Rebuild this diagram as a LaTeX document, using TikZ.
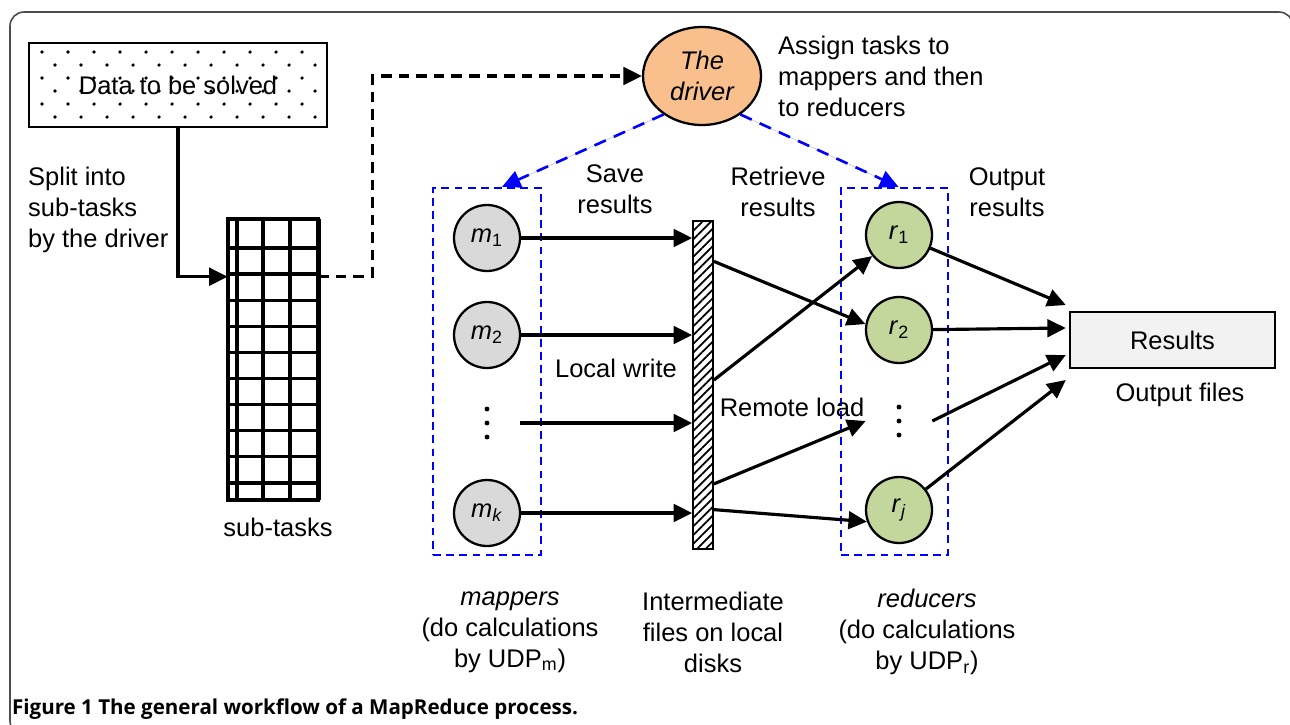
\documentclass[tikz,border=0pt]{standalone}
\usepackage{fontspec}
\setmainfont{Liberation Sans}
\newfontfamily\capfont{Open Sans}
\usetikzlibrary{arrows.meta,patterns.meta,calc,positioning,shapes.geometric}

\definecolor{mapgray}{HTML}{D9D9D9}
\definecolor{redgreen}{HTML}{C3D69B}
\definecolor{drivfill}{HTML}{F9C08E}
\definecolor{resfill}{HTML}{F2F2F2}

\tikzset{
    worker/.style={circle, draw, line width=1.3pt, minimum size=1.32cm, inner sep=0pt},
    mapper/.style={worker, fill=mapgray},
    reducer/.style={worker, fill=redgreen},
    group/.style={draw=blue, line width=1.3pt, dash pattern=on 4.5pt off 3pt},
    arr/.style={line width=1.8pt, -{Triangle[length=10.5pt,width=10pt]}},
    assign/.style={arr, draw=blue, fill=blue, line width=1.5pt, dash pattern=on 7pt off 5pt},
    gridline/.style={line width=1.9pt},
}

\begin{document}
\begin{tikzpicture}[x=0.02cm, y=-0.02cm, font=\fontsize{14.5}{17.6}\selectfont]
    \useasboundingbox (0,0) rectangle (1290,724);
    \draw[gray!60!black, line width=0.9pt, rounded corners=8pt] (10,12) rectangle (1293,735);

    % input data, dotted box
    \foreach \r in {0,...,5}
        \foreach \c in {0,...,10}
            \fill ({42+13*mod(\r,2)+26*\c},{52+13*\r}) circle (1pt);
    \node[draw, line width=1.6pt, minimum width=5.96cm, minimum height=1.68cm] (data) at (178,85) {Data to be solved};

    % sub-task grid
    \node[minimum width=1.8cm, minimum height=5.62cm, inner sep=0pt] (subtasks) at (273,359.5) {};
    \draw[gridline] foreach \x in {237,263,290} {(\x,219) -- (\x,500)};
    \draw[gridline] foreach \k in {0,...,9} {(228,{248+26.1*\k}) -- (318,{248+26.1*\k})};
    \draw[line width=2.2pt] (subtasks.north west) rectangle (subtasks.south east);
    \draw[line width=3.2pt] (subtasks.north east) -- (subtasks.south east);
    \node (sublabel) at (278,527) {sub-tasks};

    \node[align=left, anchor=west] (split) at (22,210) {Split into\\sub-tasks\\by the driver};

    \coordinate (gin) at ($(subtasks.north west)!0.206!(subtasks.south west)$);
    \coordinate (gout) at ($(subtasks.north east)!0.206!(subtasks.south east)$);
    \draw[arr] (data.south) |- (gin);

    % driver
    \node[ellipse, draw, line width=1.3pt, fill=drivfill, minimum width=2.36cm, minimum height=1.96cm,
          inner sep=0pt, font=\fontsize{14.5}{17.6}\selectfont\itshape, align=center] (driver) at (702,76) {The\\driver};
    \node[align=left, anchor=west] (assigntxt) at (772,76) {Assign tasks to\\mappers and then\\to reducers};
    \draw[arr, dash pattern=on 6pt off 4pt] (gout) -- ++(54,0) |- (driver.west);

    % mappers
    \node[group, minimum width=2.16cm, minimum height=7.34cm] (mapbox) at (487,371.5) {};
    \node[mapper] (m1) at (487,238) {\textit{m}\textsubscript{1}};
    \node[mapper] (m2) at (487,335) {\textit{m}\textsubscript{2}};
    \node[minimum size=1.32cm, inner sep=0pt] (mdots) at (487,423) {};
    \node[mapper] (mk) at (487,513) {\textit{m}\textsubscript{\textit{k}}};

    % intermediate files
    \node[draw, line width=1.4pt, pattern={Lines[angle=45,distance=3.5pt,line width=1pt]},
          minimum width=0.4cm, minimum height=6.56cm, inner sep=0pt] (bar) at (703,385) {};

    % reducers
    \node[group, minimum width=2.14cm, minimum height=7.34cm] (redbox) at (894.5,371.5) {};
    \node[reducer] (r1) at (899,235) {\textit{r}\textsubscript{1}};
    \node[reducer] (r2) at (899,330) {\textit{r}\textsubscript{2}};
    \node[minimum size=1.32cm, inner sep=0pt] (rdots) at (899,421) {};
    \node[reducer] (rj) at (899,510) {\textit{r}\textsubscript{\textit{j}}};

    \foreach \d in {-14,0,14} {
        \fill ($(mdots)+(0,\d)$) circle (1.4pt);
        \fill ($(rdots)+(0,\d)$) circle (1.4pt);
    }

    \node[draw, line width=1.4pt, fill=resfill, minimum width=4.1cm, minimum height=1.12cm] (results) at (1172.5,340) {Results};
    \node (outfiles) at (1180,395) {Output files};

    % task assignment
    \draw[assign] (driver.225) -- ($(mapbox.north)+(15,0)$);
    \draw[assign] (driver.315) -- ($(redbox.north)+(4,0)$);

    % local write
    \draw[arr] (m1) -- (m1 -| bar.west);
    \draw[arr] (m2) -- (m2 -| bar.west);
    \draw[arr] (mdots) -- (mdots -| bar.west);
    \draw[arr] (mk) -- (mk -| bar.west);

    % remote load
    \draw[arr] ($(bar.north east)!0.125!(bar.south east)$) -- (r2.170);
    \draw[arr] ($(bar.north east)!0.485!(bar.south east)$) -- (r1);
    \draw[arr] ($(bar.north east)!0.80!(bar.south east)$) -- (rdots.west);
    \draw[arr] ($(bar.north east)!0.878!(bar.south east)$) -- (rj.200);

    % output
    \draw[arr] (r1) -- ($(results.west)+(-3,-35)$);
    \draw[arr] (r2) -- ($(results.west)+(-3,-12)$);
    \draw[arr] (rdots.east) -- ($(results.west)+(-3,15)$);
    \draw[arr] (rj) -- ($(results.west)+(-3,40)$);

    \node[align=center] (save) at (615,189) {Save\\results};
    \node[align=center] (retrieve) at (778,192) {Retrieve\\results};
    \node[align=center] (outres) at (1007,192) {Output\\results};
    \node (lwrite) at (616,368) {Local write};
    \node (rload) at (792,407) {Remote load};

    \node[align=center] (maplabel) at (510,632) {\textit{mappers}\\(do calculations\\by UDP\textsubscript{m})};
    \node[align=center] (interlabel) at (713,632) {Intermediate\\files on local\\disks};
    \node[align=center] (redlabel) at (927,632) {\textit{reducers}\\(do calculations\\by UDP\textsubscript{r})};

    \node[anchor=west, inner sep=1pt, font=\capfont\bfseries\fontsize{11.7}{13}\selectfont] (caption) at (10,709)
        {Figure 1 The general workflow of a MapReduce process.};
\end{tikzpicture}
\end{document}
